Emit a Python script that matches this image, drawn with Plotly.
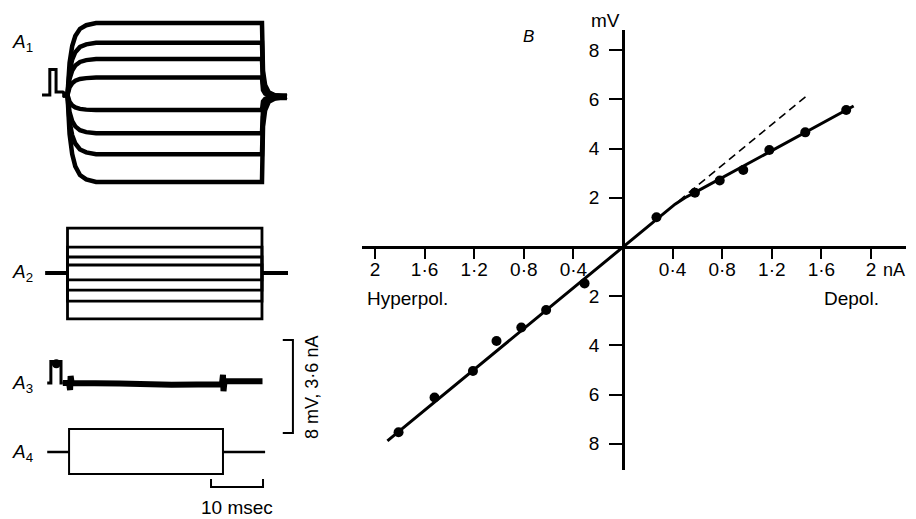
import plotly.graph_objects as go

# ---------------- Panel B data (current nA, voltage mV) ----------------
iv_current = [-1.81, -1.52, -1.21, -1.02, -0.82, -0.62, -0.31,
              0.27, 0.58, 0.78, 0.97, 1.18, 1.47, 1.80]
iv_voltage = [-7.53, -6.12, -5.04, -3.82, -3.27, -2.56, -1.48,
              1.21, 2.21, 2.70, 3.13, 3.94, 4.66, 5.57]
fit_current = [-1.90, 0.0, 0.42, 0.50, 0.60, 1.86]
fit_voltage = [-7.88, 0.0, 1.74, 2.00, 2.27, 5.73]
extrap_current = [0.45, 1.48]
extrap_voltage = [1.87, 6.14]
b_xtick_vals = [-2, -1.6, -1.2, -0.8, -0.4, 0.4, 0.8, 1.2, 1.6, 2]
b_xtick_text = ["2", "1·6", "1·2", "0·8", "0·4", "0·4", "0·8", "1·2", "1·6", "2"]
b_ytick_vals = [-8, -6, -4, -2, 2, 4, 6, 8]
b_ytick_text = ["8", "6", "4", "2", "2", "4", "6", "8"]

# ---------------- Panel A data (time msec) ----------------
a1_levels_mV = [6.2, 4.5, 3.1, 1.5, -1.3, -3.3, -5.1, -7.5]
a1_rise_t = [0, 0.4, 0.9, 1.5, 2.4, 3.6, 5.5]
a1_rise_frac = [0, 0.45, 0.68, 0.82, 0.92, 0.97, 1.0]
a1_pulse_end = 37.4
a1_fall_t = [0, 0.2, 0.6, 1.3, 2.5, 4.8]
a1_fall_frac = [1.0, 0.35, 0.16, 0.06, 0.02, 0.0]
a1_after_mV = -0.15
a1_pre_t = [-4.9, -3.4, -3.4, -2.2, -2.2, -0.9, 0.0]
a1_pre_v = [0.0, 0.0, 2.2, 2.2, 0.25, 0.25, 0.0]

a2_levels_nA = [1.74, 1.0, 0.62, 0.31, -0.27, -0.66, -1.09, -1.78]
a2_pulse_end = 37.4
a2_stub_t = [-4.3, 0.0, None, 37.4, 42.4]
a2_stub_v = [0, 0, None, 0, 0]

a3_t = [-3.9, -3.2, -3.2, -1.25, -1.25, -0.9, 0.3, 0.5, 0.6, 0.8,
        10, 20, 29.7, 29.9, 30.0, 30.2, 37.5]
a3_v = [0.0, 0.0, 1.85, 1.85, 0.0, 0.0, 0.0, -0.6, 0.6, 0.0,
        -0.05, -0.15, -0.1, 0.7, -0.7, 0.15, 0.15]

a4_levels_nA = [0.89, -0.85]
a4_on, a4_off = 0.3, 29.9
a4_stub_t = [-3.9, 0.3, None, 29.9, 38.0]
a4_stub_v = [0, 0, None, 0, 0]

scale_t = [41.4, 43.35, 43.35, 41.4]
scale_mV = [3.7, 3.7, -4.3, -4.3]
time_bar_t = [27.6, 27.6, 37.6, 37.6]
time_bar_nA = [-1.05, -1.36, -1.36, -1.05]

OFF = 8                      # page body margin
W, H = 916 - OFF, 519 - OFF  # figure size inside the page
FONT = "Liberation Sans, Arial, sans-serif"


def fx(px):
    return (px - OFF) / W


def fy(py):
    return 1 - (py - OFF) / H


def ybox(top_px, bot_px, base_px, px_per_unit):
    dom = [fy(bot_px), fy(top_px)]
    rng = [-(bot_px - base_px) / px_per_unit, (base_px - top_px) / px_per_unit]
    return dom, rng


fig = go.Figure()

# --- Panel B ---
fig.add_trace(go.Scatter(x=fit_current, y=fit_voltage, mode="lines",
                         line=dict(color="black", width=3), xaxis="x", yaxis="y"))
fig.add_trace(go.Scatter(x=extrap_current, y=extrap_voltage, mode="lines",
                         line=dict(color="black", width=1.6, dash="8px,5px"),
                         xaxis="x", yaxis="y"))
fig.add_trace(go.Scatter(x=iv_current, y=iv_voltage, mode="markers",
                         marker=dict(color="black", size=10), xaxis="x", yaxis="y"))

# --- A1 ---
fig.add_trace(go.Scatter(x=a1_pre_t, y=a1_pre_v, mode="lines",
                         line=dict(color="black", width=3), xaxis="x2", yaxis="y3"))
for L in a1_levels_mV:
    t = [-0.9] + list(a1_rise_t)
    v = [0.0] + [L * f for f in a1_rise_frac]
    for dt, f in zip(a1_fall_t, a1_fall_frac):
        t.append(a1_pulse_end + dt)
        v.append(a1_after_mV + (L - a1_after_mV) * f)
    fig.add_trace(go.Scatter(x=t, y=v, mode="lines", line=dict(color="black", width=4.5),
                             xaxis="x2", yaxis="y3"))
fig.add_trace(go.Scatter(x=[a1_pulse_end + 1.5, a1_pulse_end + 4.8],
                         y=[a1_after_mV, a1_after_mV], mode="lines",
                         line=dict(color="black", width=7), xaxis="x2", yaxis="y3"))

# --- A2 ---
for L in a2_levels_nA:
    fig.add_trace(go.Scatter(x=[0, 0, a2_pulse_end, a2_pulse_end], y=[0, L, L, 0],
                             mode="lines", line=dict(color="black", width=2.8),
                             xaxis="x2", yaxis="y4"))
fig.add_trace(go.Scatter(x=a2_stub_t, y=a2_stub_v, mode="lines",
                         line=dict(color="black", width=4), xaxis="x2", yaxis="y4"))

# --- A3 ---
fig.add_trace(go.Scatter(x=a3_t[:6], y=a3_v[:6], mode="lines",
                         line=dict(color="black", width=3), xaxis="x2", yaxis="y5"))
fig.add_trace(go.Scatter(x=[a3_t[3] - 0.9], y=[a3_v[3] - 0.2], mode="markers",
                         marker=dict(color="black", size=9), xaxis="x2", yaxis="y5"))
fig.add_trace(go.Scatter(x=a3_t[5:], y=a3_v[5:], mode="lines",
                         line=dict(color="black", width=6), xaxis="x2", yaxis="y5"))
fig.add_trace(go.Scatter(x=scale_t, y=scale_mV, mode="lines",
                         line=dict(color="black", width=2), xaxis="x2", yaxis="y5"))

# --- A4 ---
for L in a4_levels_nA:
    fig.add_trace(go.Scatter(x=[a4_on, a4_on, a4_off, a4_off], y=[0, L, L, 0],
                             mode="lines", line=dict(color="black", width=2),
                             xaxis="x2", yaxis="y6"))
fig.add_trace(go.Scatter(x=a4_stub_t, y=a4_stub_v, mode="lines",
                         line=dict(color="black", width=2.5), xaxis="x2", yaxis="y6"))
fig.add_trace(go.Scatter(x=time_bar_t, y=time_bar_nA, mode="lines",
                         line=dict(color="black", width=2), xaxis="x2", yaxis="y6"))

# ---------------- Layout ----------------
ORIGIN_X, ORIGIN_Y = 623, 247
B_PX_PER_NA, B_PX_PER_MV = 124, 24.6
bx0, bx1, by0, by1 = 362, 906, 30, 470

A_X0, A_X1 = OFF, 320
A_T0_PX, A_PX_PER_MS = 67.5, 5.2
MV_PX, NA_PX = 11.6, 25.8

dom3, rng3 = ybox(10, 205, 95, MV_PX)
dom4, rng4 = ybox(210, 330, 273, NA_PX)
dom5, rng5 = ybox(330, 445, 383, MV_PX)
dom6, rng6 = ybox(415, 500, 452, NA_PX)

hidden = dict(visible=False, showgrid=False, zeroline=False, fixedrange=True)
tickfont = dict(family=FONT, size=19, color="black")

fig.update_layout(
    width=W, height=H, autosize=False,
    margin=dict(l=0, r=0, t=0, b=0, pad=0),
    paper_bgcolor="white", plot_bgcolor="rgba(0,0,0,0)",
    showlegend=False,
    xaxis=dict(domain=[fx(bx0), fx(bx1)],
               range=[(bx0 - ORIGIN_X) / B_PX_PER_NA, (bx1 - ORIGIN_X) / B_PX_PER_NA],
               anchor="free", position=fy(ORIGIN_Y),
               showline=True, linecolor="black", linewidth=2.5,
               ticks="outside", ticklen=10, tickwidth=2, tickcolor="black",
               tickvals=b_xtick_vals, ticktext=b_xtick_text, tickfont=tickfont,
               showgrid=False, zeroline=False, ticklabelstandoff=-6),
    yaxis=dict(domain=[fy(by1), fy(by0)],
               range=[-(by1 - ORIGIN_Y) / B_PX_PER_MV, (ORIGIN_Y - by0) / B_PX_PER_MV],
               anchor="free", position=fx(ORIGIN_X),
               showline=True, linecolor="black", linewidth=2.5,
               ticks="outside", ticklen=13, tickwidth=2, tickcolor="black",
               tickvals=b_ytick_vals, ticktext=b_ytick_text, tickfont=tickfont,
               showgrid=False, zeroline=False, ticklabelstandoff=6),
    xaxis2=dict(domain=[fx(A_X0), fx(A_X1)],
                range=[(A_X0 - A_T0_PX) / A_PX_PER_MS, (A_X1 - A_T0_PX) / A_PX_PER_MS],
                anchor="y3", **hidden),
    yaxis3=dict(domain=dom3, range=rng3, anchor="x2", **hidden),
    yaxis4=dict(domain=dom4, range=rng4, anchor="x2", **hidden),
    yaxis5=dict(domain=dom5, range=rng5, anchor="x2", **hidden),
    yaxis6=dict(domain=dom6, range=rng6, anchor="x2", **hidden),
)


def label(text, x, y, size=19, angle=0, xanchor="center", italic=False):
    fig.add_annotation(text=text, x=fx(x), y=fy(y), xref="paper", yref="paper",
                       showarrow=False, xanchor=xanchor, yanchor="middle",
                       textangle=angle, borderpad=0,
                       font=dict(family=FONT, size=size, color="black",
                                 style="italic" if italic else "normal"))


label("<i>A</i><sub>1</sub>", 11, 43, xanchor="left")
label("<i>A</i><sub>2</sub>", 11, 273, xanchor="left")
label("<i>A</i><sub>3</sub>", 11, 384, xanchor="left")
label("<i>A</i><sub>4</sub>", 11, 453, xanchor="left")
label("8 mV, 3·6 nA", 312, 388, size=18, angle=-90)
label("10 msec", 237, 507)
label("B", 528, 37, size=17, italic=True)
label("mV", 605, 21)
label("nA", 906, 270, size=18, xanchor="right")
label("Hyperpol.", 366, 298, xanchor="left")
label("Depol.", 880, 298, xanchor="right")

fig.write_html("out.html")
